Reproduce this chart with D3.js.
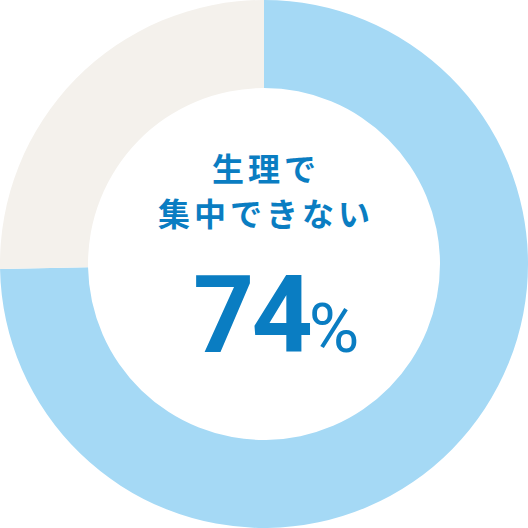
<!DOCTYPE html>
<html><head><meta charset="utf-8">
<script src="https://cdn.jsdelivr.net/npm/d3@7"></script>
<style>html,body{margin:0;padding:0;background:#fff;}svg{display:block;}</style>
</head><body>
<svg id="c" width="528" height="528"></svg>
<script>
const categories = ["生理で集中できない", "その他"];
const values = [74.7, 25.3];
const colors = ["#a5d9f5", "#f4f1ec"];
const titleLines = ["生理で", "集中できない"];
const percentLabel = "74";

const W = 528, H = 528, cx = 264, cy = 264;
const svg = d3.select("#c");
const g = svg.append("g").attr("transform", `translate(${cx},${cy})`);
const pie = d3.pie().sort(null).value(d => d);
const arc = d3.arc().innerRadius(176).outerRadius(264);
const color = d3.scaleOrdinal().domain(categories).range(colors);
g.selectAll("path").data(pie(values)).join("path")
  .attr("d", arc).attr("fill", (d, i) => color(categories[i]));

const txt = "#0a7dc2";
const font = "'Noto Sans CJK JP', 'Noto Sans', sans-serif";
g.selectAll("text.t").data(titleLines).join("text").attr("class", "t")
  .attr("x", 2).attr("y", (d, i) => -83 + i * 45)
  .attr("text-anchor", "middle")
  .attr("font-family", font).attr("font-weight", 700)
  .attr("font-size", 32).attr("letter-spacing", 4)
  .attr("fill", txt).text(d => d);

const num = g.append("text").attr("x", -71).attr("y", 88).attr("text-anchor", "start")
  .attr("fill", txt);
num.append("tspan").attr("font-family", "Roboto, 'Liberation Sans', sans-serif")
  .attr("font-weight", 700).attr("font-size", 107).attr("letter-spacing", -3)
  .text(percentLabel);
num.append("tspan").attr("dx", -1).attr("font-family", "Roboto, sans-serif")
  .attr("font-weight", 400).attr("font-size", 69).text("%");
</script>
</body></html>
